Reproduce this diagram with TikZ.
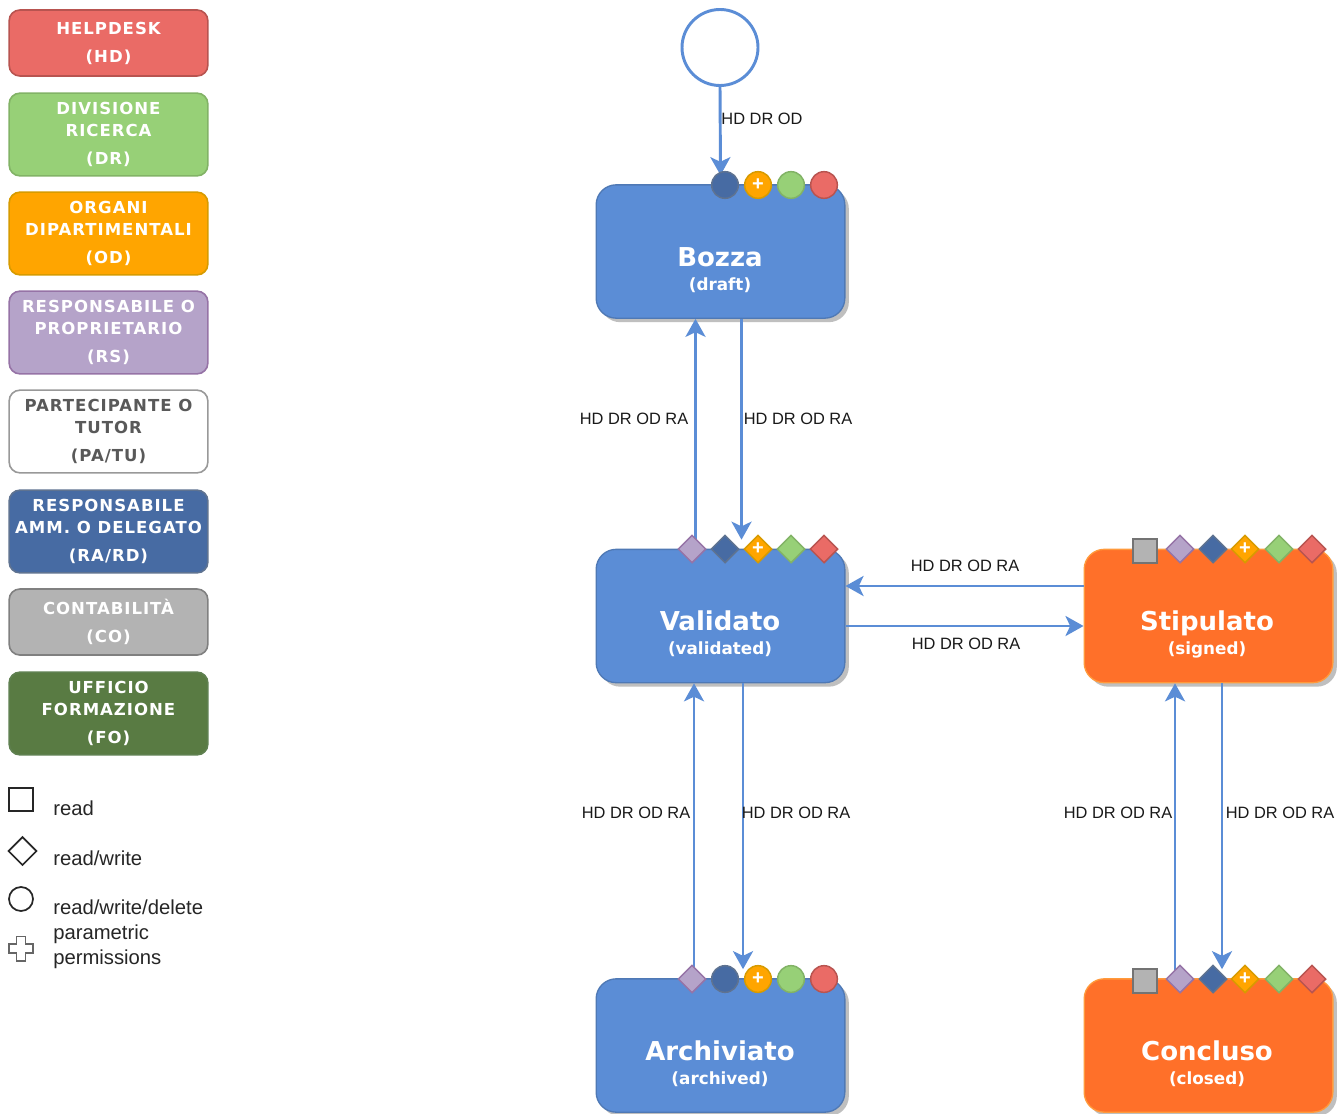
\documentclass[tikz,border=0pt]{standalone}
\usepackage{fontspec}
\setmainfont{Liberation Sans}
\newfontfamily\legfont[LetterSpace=6]{DejaVu Sans}
\newfontfamily\titfont{DejaVu Sans}
\usetikzlibrary{arrows.meta,calc,shapes.geometric,shadows}
\definecolor{cHD}{HTML}{EA6B66}\definecolor{sHD}{HTML}{B85450}
\definecolor{cDR}{HTML}{97D077}\definecolor{sDR}{HTML}{82B366}
\definecolor{cOD}{HTML}{FFA500}\definecolor{sOD}{HTML}{D79B00}
\definecolor{cRS}{HTML}{B5A3C9}\definecolor{sRS}{HTML}{9673A6}
\definecolor{cRA}{HTML}{476BA3}\definecolor{sRA}{HTML}{5F7391}
\definecolor{cCO}{HTML}{B3B3B3}\definecolor{sCO}{HTML}{808080}
\definecolor{cFO}{HTML}{597B43}\definecolor{sFO}{HTML}{5F8050}
\definecolor{cBL}{HTML}{5B8DD6}\definecolor{sBL}{HTML}{4F79B5}
\definecolor{cOR}{HTML}{FF7029}\definecolor{sOR}{HTML}{FF9A3C}
\tikzset{
  legbox/.style={draw=#1, line width=1.2pt, rounded corners=8pt, minimum width=149pt, inner sep=0pt, align=center, text=white, font=\legfont\bfseries\fontsize{12.4}{16.5}\selectfont},
  legtall/.style={minimum height=62pt},
  legshort/.style={minimum height=49.5pt},
  statebox/.style={rounded corners=15pt, minimum width=186.5pt, minimum height=100pt, inner sep=0pt, line width=1pt},
  boxshadow/.style={drop shadow={shadow xshift=3pt, shadow yshift=-3pt, opacity=1, fill=black!25}},
  blueState/.style={statebox, fill=cBL, draw=sBL, boxshadow},
  orangeState/.style={statebox, fill=cOR, draw=sOR, boxshadow},
  titletext/.style={text=white, font=\titfont\bfseries\fontsize{19.5}{22}\selectfont, inner sep=0pt, anchor=base},
  subtext/.style={text=white, font=\titfont\bfseries\fontsize{12.6}{15}\selectfont, inner sep=0pt},
  flow/.style={draw=cBL, line width=2.2pt, -{Stealth[length=13.5pt,width=15pt,inset=3.5pt]}},
  flowlabel/.style={font=\fontsize{12.3}{14}\selectfont, text=black!90, inner sep=0pt},
  roundicon/.style={circle, minimum size=20pt, inner sep=0pt, line width=1.1pt, font=\bfseries\fontsize{15}{15}\selectfont, text=white},
  diaicon/.style={diamond, minimum size=21pt, inner sep=0pt, line width=1.1pt, aspect=1, font=\bfseries\fontsize{15}{15}\selectfont, text=white},
  squareicon/.style={rectangle, minimum size=17.5pt, inner sep=0pt, line width=1.5pt, fill=cCO, draw=sCO!90!black},
  legsym/.style={draw=black!85, fill=white, line width=1.3pt, inner sep=0pt},
  legtext/.style={font=\fontsize{15.2}{18.75}\selectfont, text=black!85, inner sep=0pt, anchor=west, align=left},
}
\begin{document}
\begin{tikzpicture}[x=0.75pt,y=-0.75pt]
\useasboundingbox (0,0) rectangle (1344,1113);
\fill[white] (0,0) rectangle (1344,1113);

% legend
\node[legbox=sHD, fill=cHD, legshort] (lhd) at (108.5,43) {HELPDESK\\[4.5pt](HD)};
\node[legbox=sDR, fill=cDR, legtall] (ldr) at (108.5,134.5) {DIVISIONE\\RICERCA\\[5pt](DR)};
\node[legbox=sOD, fill=cOD, legtall] (lod) at (108.5,233.5) {ORGANI\\DIPARTIMENTALI\\[5pt](OD)};
\node[legbox=sRS, fill=cRS, legtall] (lrs) at (108.5,332.5) {RESPONSABILE O\\PROPRIETARIO\\[5pt](RS)};
\node[legbox=black!40, fill=white, legtall, text=black!65] (lpa) at (108.5,431.5) {PARTECIPANTE O\\TUTOR\\[5pt](PA/TU)};
\node[legbox=sRA, fill=cRA, legtall] (lra) at (108.5,531.5) {RESPONSABILE\\AMM. O DELEGATO\\[5pt](RA/RD)};
\node[legbox=sCO, fill=cCO, legshort] (lco) at (108.5,622) {CONTABILITÀ\\[4.5pt](CO)};
\node[legbox=sFO, fill=cFO, legtall] (lfo) at (108.5,713.5) {UFFICIO\\FORMAZIONE\\[5pt](FO)};

% permission key
\node[legsym, rectangle, minimum size=17.5pt] (ksq) at (21,799.5) {};
\node[legsym, diamond, aspect=1, minimum size=21.5pt] (kdi) at (22.5,851) {};
\node[legsym, circle, minimum size=18pt] (kci) at (21,899) {};
\draw[legsym, draw=black!60] (16.5,936.5) -- (25.5,936.5) -- (25.5,944) -- (33,944) -- (33,953) -- (25.5,953) -- (25.5,961) -- (16.5,961) -- (16.5,953) -- (9,953) -- (9,944) -- (16.5,944) -- cycle;
\node[legtext] (tread) at (53,808) {read};
\node[legtext] (trw) at (53,858) {read/write};
\node[legtext] (trwd) at (53,907) {read/write/delete};
\node[legtext] (tpar) at (53,946.5) {parametric\\permissions};

% states
\node[circle, draw=cBL, fill=white, line width=2.2pt, minimum size=57pt, inner sep=0pt] (start) at (720,47.5) {};
\node[blueState] (bozza) at (720.5,251.5) {};
\node[blueState] (valid) at (720.5,616) {};
\node[blueState] (arch) at (720.5,1045.5) {};
\node[orangeState] (stip) at (1208.5,616) {};
\node[orangeState] (conc) at (1208.5,1045.5) {};

\node[titletext] (t1) at (720,266.5) {Bozza};
\node[subtext] (s1) at (720,285.5) {(draft)};
\node[titletext] (t2) at (720,630.5) {Validato};
\node[subtext] (s2) at (720,649.5) {(validated)};
\node[titletext] (t3) at (720,1060.5) {Archiviato};
\node[subtext] (s3) at (720,1079.5) {(archived)};
\node[titletext] (t4) at (1207,630.5) {Stipulato};
\node[subtext] (s4) at (1207,649.5) {(signed)};
\node[titletext] (t5) at (1207,1060.5) {Concluso};
\node[subtext] (s5) at (1207,1079.5) {(closed)};

% connectors
\draw[flow] (start.south) -- ($(bozza.north)+(0,-9)$);
\draw[flow] ($(valid.north)+(-25,0)$) -- ($(bozza.south)+(-25,0)$);
\draw[flow] ($(bozza.south)+(21,0)$) -- ($(valid.north)+(21,-9)$);
\draw[flow] ($(stip.west)+(0,-30)$) -- ($(valid.east)+(0,-30)$);
\draw[flow] ($(valid.east)+(0,10)$) -- ($(stip.west)+(0,10)$);
\draw[flow] ($(arch.north)+(-26.5,0)$) -- ($(valid.south)+(-26.5,0)$);
\draw[flow] ($(valid.south)+(22.5,0)$) -- ($(arch.north)+(22.5,-9)$);
\draw[flow] ($(conc.north)+(-33.5,0)$) -- ($(stip.south)+(-33.5,0)$);
\draw[flow] ($(stip.south)+(13.5,0)$) -- ($(conc.north)+(13.5,-9)$);

% connector labels
\node[flowlabel] (l1) at (762,119) {HD DR OD};
\node[flowlabel] (l2) at (634,419) {HD DR OD RA};
\node[flowlabel] (l3) at (798,419) {HD DR OD RA};
\node[flowlabel] (l4) at (965,566) {HD DR OD RA};
\node[flowlabel] (l5) at (966,644) {HD DR OD RA};
\node[flowlabel] (l6) at (636,813) {HD DR OD RA};
\node[flowlabel] (l7) at (796,813) {HD DR OD RA};
\node[flowlabel] (l8) at (1118,813) {HD DR OD RA};
\node[flowlabel] (l9) at (1280,813) {HD DR OD RA};

% icons: Bozza
\node[roundicon, fill=cRA, draw=sRA] (b1) at (725,185) {};
\node[roundicon, fill=cOD, draw=sOD] (b2) at (758,185) {+};
\node[roundicon, fill=cDR, draw=sDR] (b3) at (791,185) {};
\node[roundicon, fill=cHD, draw=sHD] (b4) at (824,185) {};
% icons: Validato
\node[diaicon, fill=cRS, draw=sRS] (v0) at (692,549) {};
\node[diaicon, fill=cRA, draw=sRA] (v1) at (725,549) {};
\node[diaicon, fill=cOD, draw=sOD] (v2) at (758,549) {+};
\node[diaicon, fill=cDR, draw=sDR] (v3) at (791,549) {};
\node[diaicon, fill=cHD, draw=sHD] (v4) at (824,549) {};
% icons: Archiviato
\node[diaicon, fill=cRS, draw=sRS] (a0) at (692,979) {};
\node[roundicon, fill=cRA, draw=sRA] (a1) at (725,979) {};
\node[roundicon, fill=cOD, draw=sOD] (a2) at (758,979) {+};
\node[roundicon, fill=cDR, draw=sDR] (a3) at (791,979) {};
\node[roundicon, fill=cHD, draw=sHD] (a4) at (824,979) {};
% icons: Stipulato
\node[squareicon] (p0) at (1145,551) {};
\node[diaicon, fill=cRS, draw=sRS] (p1) at (1180,549) {};
\node[diaicon, fill=cRA, draw=sRA] (p2) at (1213,549) {};
\node[diaicon, fill=cOD, draw=sOD] (p3) at (1245,549) {+};
\node[diaicon, fill=cDR, draw=sDR] (p4) at (1279,549) {};
\node[diaicon, fill=cHD, draw=sHD] (p5) at (1312,549) {};
% icons: Concluso
\node[squareicon] (c0) at (1145,981) {};
\node[diaicon, fill=cRS, draw=sRS] (c1) at (1180,979) {};
\node[diaicon, fill=cRA, draw=sRA] (c2) at (1213,979) {};
\node[diaicon, fill=cOD, draw=sOD] (c3) at (1245,979) {+};
\node[diaicon, fill=cDR, draw=sDR] (c4) at (1279,979) {};
\node[diaicon, fill=cHD, draw=sHD] (c5) at (1312,979) {};
\end{tikzpicture}
\end{document}
